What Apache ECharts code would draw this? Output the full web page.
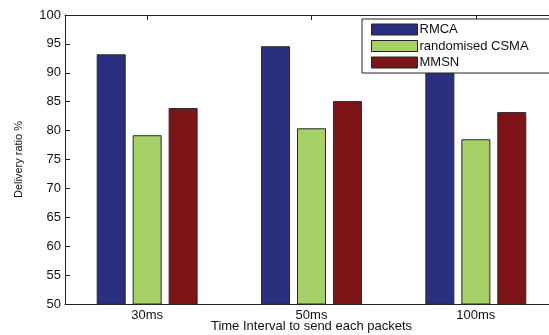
<!DOCTYPE html>
<html><head><meta charset="utf-8">
<script src="https://cdn.jsdelivr.net/npm/echarts@6/dist/echarts.min.js"></script>
<style>html,body{margin:0;padding:0;background:#fff}#c{width:549px;height:335px}</style>
</head><body><div id="c"></div>
<script>
const categories = ['30ms', '50ms', '100ms'];
const rmca = [93.2, 94.6, 92.0];
const csma = [79.2, 80.4, 78.5];
const mmsn = [83.9, 85.1, 83.2];
const seriesNames = ['RMCA', 'randomised CSMA', 'MMSN'];
const colors = ['#2b2f80', '#a6d166', '#7f1417'];
const yTicks = {min: 50, max: 100, step: 5};

const font = 'Liberation Sans, Arial, Helvetica, sans-serif';
const chart = echarts.init(document.getElementById('c'));
const mk = (name, data, color) => ({
  name, type: 'bar', data, barWidth: 29, barGap: '24%',
  itemStyle: {color, borderColor: '#2a2a2a', borderWidth: 1},
  animation: false
});
chart.setOption({
  animation: false,
  backgroundColor: '#fff',
  textStyle: {fontFamily: font},
  grid: {left: 65, top: 15, right: -9, bottom: 31, containLabel: false, outerBoundsMode: 'none'},
  legend: {
    orient: 'vertical', left: 362, top: 19,
    data: seriesNames,
    icon: 'rect',
    backgroundColor: '#fff', borderColor: '#222', borderWidth: 1,
    padding: [4, 60, 4, 9],
    itemWidth: 46, itemHeight: 11, itemGap: 3.5,
    itemStyle: {borderColor: '#222', borderWidth: 1},
    textStyle: {fontFamily: font, fontSize: 13, color: '#111', lineHeight: 13, padding: [0, 0, 0, -3]}
  },
  xAxis: [{
    type: 'category', data: categories, position: 'bottom',
    name: 'Time Interval to send each packets', nameLocation: 'middle', nameGap: 16,
    nameMoveOverlap: false,
    nameTextStyle: {fontFamily: font, fontSize: 13, color: '#111'},
    axisLine: {lineStyle: {color: '#222', width: 1}},
    axisTick: {show: true, inside: true, length: 5, alignWithLabel: true, lineStyle: {color: '#222'}},
    axisLabel: {fontFamily: font, fontSize: 13, color: '#111', margin: 5}
  }, {
    type: 'category', data: categories, position: 'top',
    axisLine: {lineStyle: {color: '#222', width: 1}},
    axisTick: {show: true, inside: true, length: 5, alignWithLabel: true, lineStyle: {color: '#222'}},
    axisLabel: {show: false}
  }],
  yAxis: {
    type: 'value', min: yTicks.min, max: yTicks.max, interval: yTicks.step,
    name: 'Delivery ratio %', nameLocation: 'middle', nameGap: 41,
    nameMoveOverlap: false,
    nameTextStyle: {fontFamily: font, fontSize: 11, color: '#111'},
    axisLine: {show: true, lineStyle: {color: '#222', width: 1}},
    axisTick: {show: true, inside: true, length: 5, lineStyle: {color: '#222'}},
    axisLabel: {fontFamily: font, fontSize: 13, color: '#111', margin: 4},
    splitLine: {show: false}
  },
  series: [mk(seriesNames[0], rmca, colors[0]), mk(seriesNames[1], csma, colors[1]), mk(seriesNames[2], mmsn, colors[2])]
});
</script></body></html>
